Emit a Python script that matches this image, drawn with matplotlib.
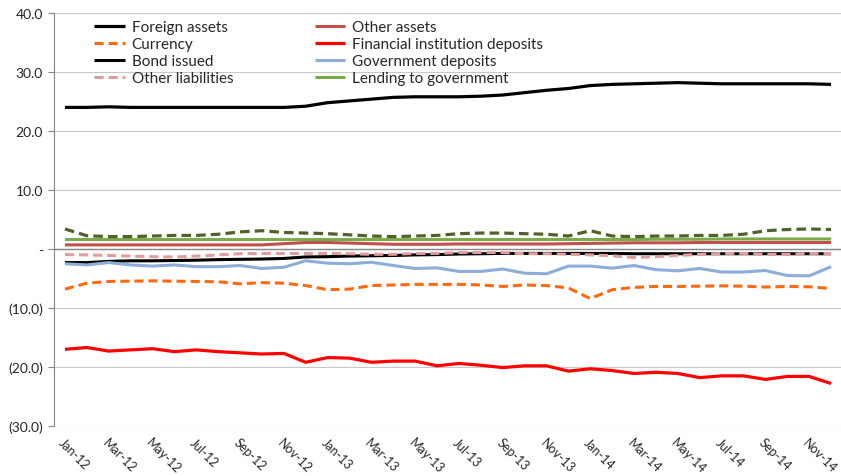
import matplotlib
matplotlib.use("Agg")
import matplotlib.pyplot as plt
import numpy as np

plt.rcParams['font.family'] = ['Lato', 'DejaVu Sans']

months = ["Jan-12","Feb-12","Mar-12","Apr-12","May-12","Jun-12","Jul-12","Aug-12","Sep-12","Oct-12","Nov-12","Dec-12",
          "Jan-13","Feb-13","Mar-13","Apr-13","May-13","Jun-13","Jul-13","Aug-13","Sep-13","Oct-13","Nov-13","Dec-13",
          "Jan-14","Feb-14","Mar-14","Apr-14","May-14","Jun-14","Jul-14","Aug-14","Sep-14","Oct-14","Nov-14","Dec-14"]

foreign_assets = [24.0, 24.0, 24.1, 24.0, 24.0, 24.0, 24.0, 24.0, 24.0, 24.0, 24.0, 24.2,
                  24.8, 25.1, 25.4, 25.7, 25.8, 25.8, 25.8, 25.9, 26.1, 26.5, 26.9, 27.2,
                  27.7, 27.9, 28.0, 28.1, 28.2, 28.1, 28.0, 28.0, 28.0, 28.0, 28.0, 27.9]
other_assets = [0.7, 0.7, 0.7, 0.7, 0.7, 0.7, 0.7, 0.7, 0.7, 0.7, 0.9, 1.1,
                1.1, 1.0, 0.9, 0.8, 0.8, 0.8, 0.85, 0.85, 0.85, 0.85, 0.85, 0.9,
                0.95, 1.0, 1.05, 1.05, 1.05, 1.1, 1.1, 1.1, 1.1, 1.1, 1.1, 1.1]
currency = [-6.8, -5.8, -5.5, -5.45, -5.4, -5.45, -5.5, -5.55, -5.9, -5.7, -5.8, -6.2,
            -6.9, -6.8, -6.2, -6.1, -6.0, -6.0, -6.0, -6.1, -6.35, -6.1, -6.2, -6.6,
            -8.4, -6.9, -6.5, -6.35, -6.35, -6.3, -6.25, -6.3, -6.45, -6.35, -6.4, -6.7]
fin_inst_deposits = [-17.0, -16.7, -17.3, -17.1, -16.9, -17.4, -17.1, -17.4, -17.6, -17.8, -17.7, -19.2,
                     -18.4, -18.5, -19.2, -19.0, -19.0, -19.8, -19.4, -19.7, -20.1, -19.8, -19.8, -20.7,
                     -20.3, -20.6, -21.1, -20.9, -21.1, -21.8, -21.5, -21.5, -22.1, -21.6, -21.6, -22.8]
bond_issued = [-2.3, -2.3, -2.1, -2.0, -2.0, -1.95, -1.9, -1.8, -1.75, -1.7, -1.6, -1.35,
               -1.3, -1.2, -1.15, -1.1, -1.0, -0.95, -0.85, -0.8, -0.75, -0.75, -0.75, -0.75,
               -0.75, -0.75, -0.8, -0.8, -0.8, -0.8, -0.8, -0.8, -0.8, -0.8, -0.8, -0.8]
government_deposits = [-2.5, -2.7, -2.3, -2.7, -2.9, -2.7, -3.0, -3.0, -2.8, -3.3, -3.1, -2.0,
                       -2.4, -2.5, -2.25, -2.8, -3.3, -3.2, -3.8, -3.8, -3.4, -4.1, -4.2, -2.9,
                       -2.9, -3.25, -2.8, -3.5, -3.7, -3.3, -3.9, -3.9, -3.65, -4.5, -4.55, -3.0]
other_liabilities = [-0.95, -1.0, -1.1, -1.2, -1.3, -1.35, -1.2, -1.0, -0.8, -0.75, -0.75, -0.75,
                     -0.75, -0.8, -0.9, -0.9, -0.75, -0.75, -0.6, -0.6, -0.6, -0.8, -0.8, -0.9,
                     -1.0, -1.15, -1.45, -1.3, -1.1, -0.9, -0.75, -0.75, -0.9, -0.9, -0.75, -0.75]
lending_to_government = [1.6, 1.6, 1.6, 1.6, 1.6, 1.6, 1.6, 1.6, 1.6, 1.6, 1.6, 1.6,
                         1.6, 1.6, 1.6, 1.6, 1.6, 1.6, 1.6, 1.6, 1.6, 1.6, 1.6, 1.6,
                         1.6, 1.6, 1.6, 1.65, 1.65, 1.65, 1.7, 1.7, 1.7, 1.7, 1.7, 1.7]
unlabelled_series = [3.4, 2.25, 2.1, 2.1, 2.2, 2.3, 2.3, 2.5, 2.9, 3.1, 2.8, 2.7,
                     2.6, 2.4, 2.2, 2.1, 2.2, 2.3, 2.6, 2.7, 2.7, 2.6, 2.5, 2.2,
                     3.1, 2.2, 2.1, 2.2, 2.2, 2.3, 2.3, 2.5, 3.1, 3.3, 3.4, 3.3]

yticks = [40, 30, 20, 10, 0, -10, -20, -30]
ytick_labels = ["40.0", "30.0", "20.0", "10.0", "-", "(10.0)", "(20.0)", "(30.0)"]

W, H = 841, 477
fig = plt.figure(figsize=(W/100, H/100), dpi=100)
left, right, top, bottom = 54, 842, 14, 427
ax = fig.add_axes([left/W, 1 - bottom/H, (right-left)/W, (bottom-top)/H])

x = np.arange(len(months))
dash = (3.0, 1.6)
series = [
    ("Foreign assets", foreign_assets, dict(color="black", lw=2.3)),
    ("Other assets", other_assets, dict(color="#C0504D", lw=2.2)),
    ("Currency", currency, dict(color="#FF6A10", lw=2.2, dashes=dash)),
    ("Financial institution deposits", fin_inst_deposits, dict(color="#FF0000", lw=2.3)),
    ("Bond issued", bond_issued, dict(color="black", lw=2.2)),
    ("Government deposits", government_deposits, dict(color="#8CADD8", lw=2.2)),
    ("Other liabilities", other_liabilities, dict(color="#E39C9C", lw=2.2, dashes=dash)),
    ("Lending to government", lending_to_government, dict(color="#7AAB4A", lw=2.2)),
    ("_unlabelled", unlabelled_series, dict(color="#4F6228", lw=2.3, dashes=dash)),
]
handles = {}
for name, vals, kw in series:
    ln, = ax.plot(x, vals, label=name, solid_capstyle='butt', dash_capstyle='butt', **kw)
    handles[name] = ln

ax.set_xlim(-0.5, len(months) - 0.5)
ax.set_ylim(-30, 40)
ax.set_yticks(yticks)
ax.set_yticklabels(ytick_labels, fontsize=10, color="#262626")
ax.tick_params(axis='y', length=4, width=0.8, color="#868686", pad=4)
ax.yaxis.grid(True, color="#C8C8C8", lw=0.8)
ax.set_axisbelow(True)

ax.set_xticks(x[::2])
ax.set_xticklabels(months[::2], rotation=-45, ha='left', va='top',
                   rotation_mode='anchor', fontsize=9, color="#262626")
ax.tick_params(axis='x', length=0, pad=7)

for s in ['top', 'right', 'bottom']:
    ax.spines[s].set_visible(False)
ax.spines['left'].set_color("#868686")
ax.spines['left'].set_linewidth(0.8)
ax.axhline(0, color="#868686", lw=1.0, zorder=1)

order = ["Foreign assets", "Currency", "Bond issued", "Other liabilities",
         "Other assets", "Financial institution deposits", "Government deposits", "Lending to government"]
leg = ax.legend([handles[n] for n in order], order, ncol=2, frameon=False,
                loc='upper left', bbox_to_anchor=((88-left)/(right-left), 1.0 - 1/(bottom-top)),
                fontsize=11, handlelength=2.0, handletextpad=0.45, columnspacing=5.35,
                labelspacing=0.2, borderaxespad=0)
for t in leg.get_texts():
    t.set_color("#262626")

fig.savefig("out.png", dpi=100)
